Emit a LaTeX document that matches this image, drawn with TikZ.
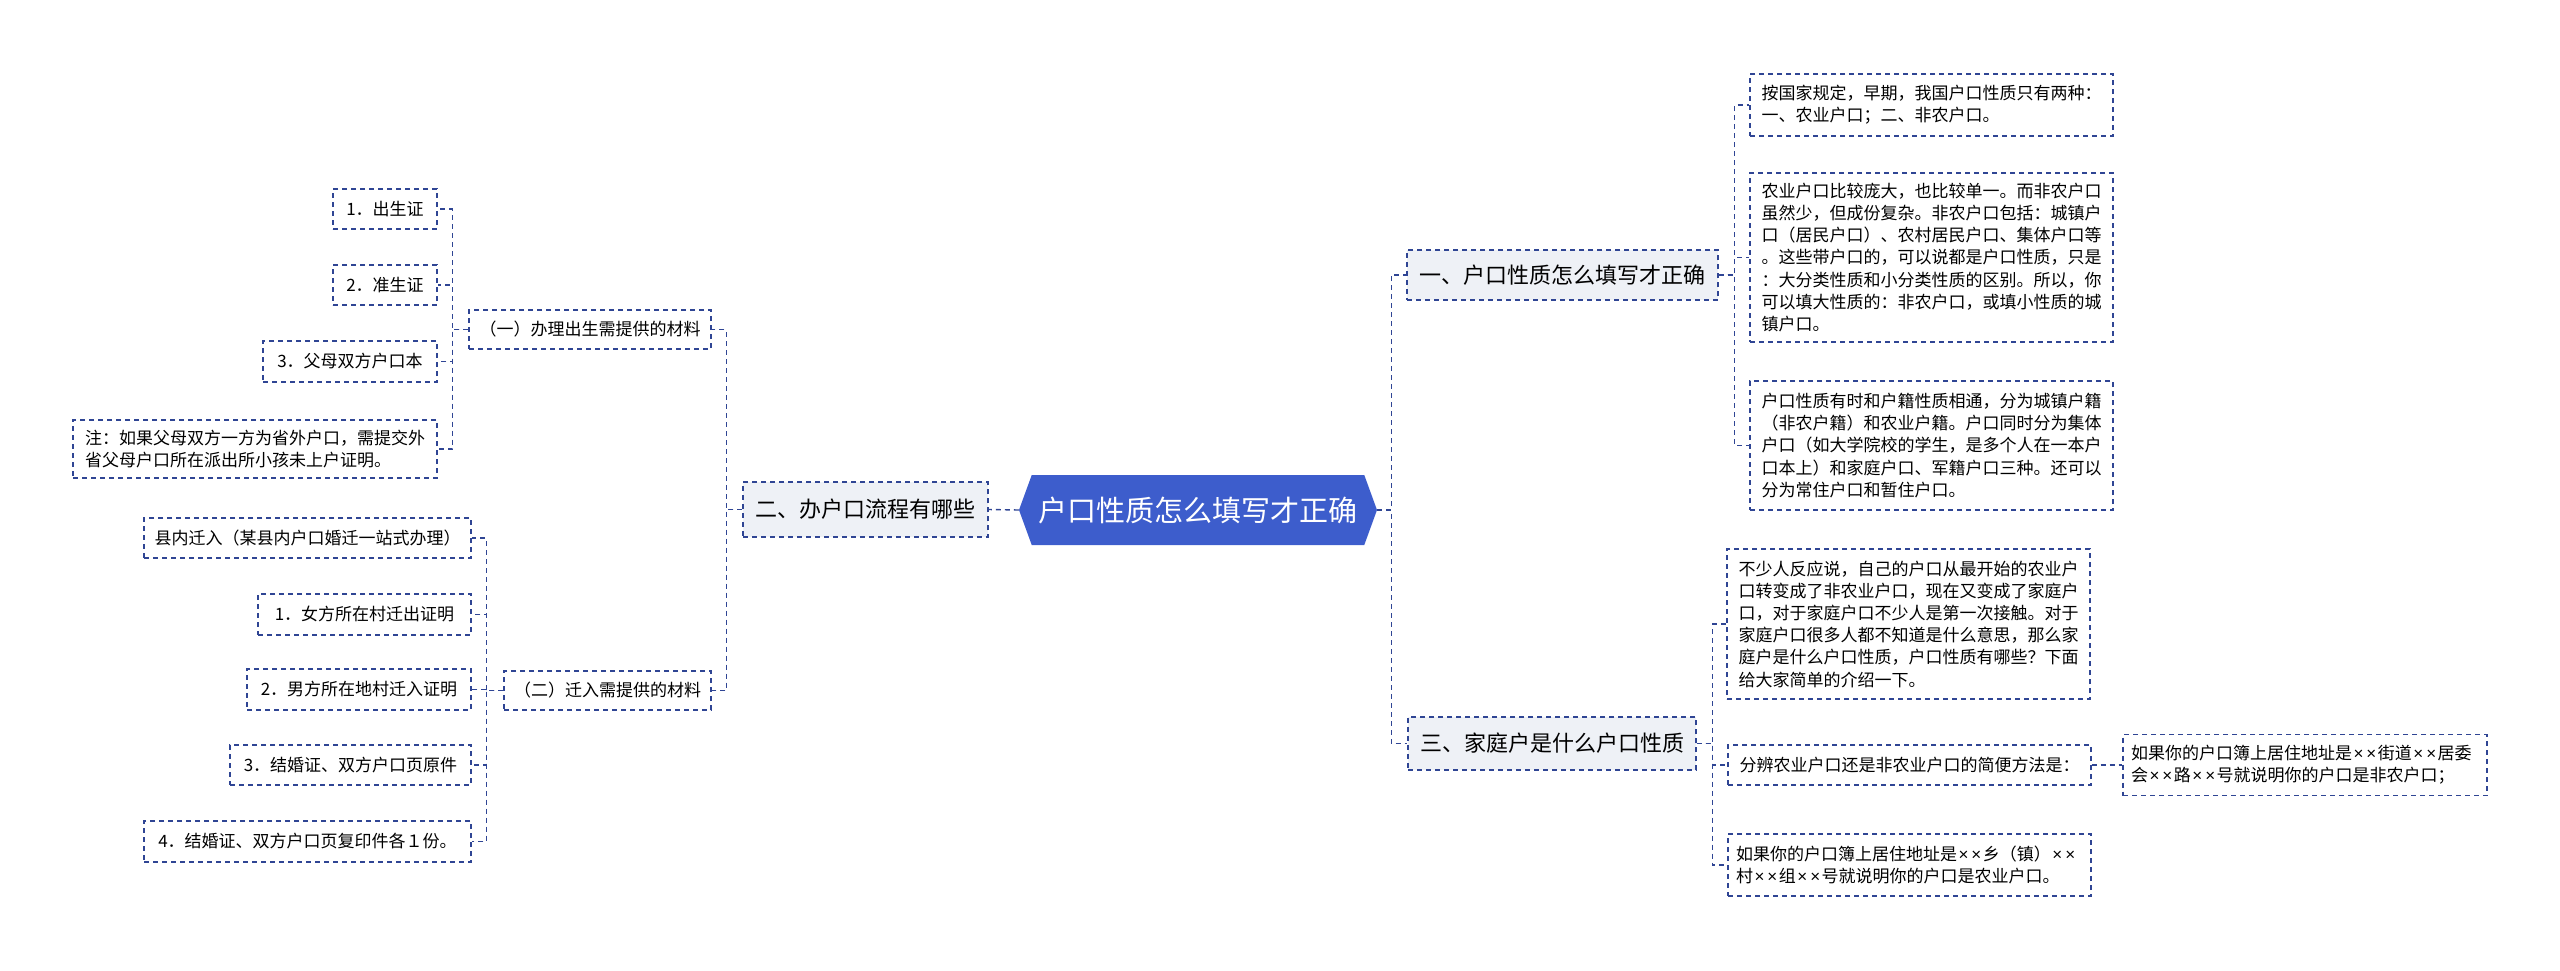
\documentclass[tikz,border=0pt]{standalone}
\usepackage{fontspec}
\setmainfont{Noto Sans CJK SC}
\newfontfamily\latinfont{Liberation Sans}
\usetikzlibrary{shapes.symbols}

\definecolor{rootblue}{RGB}{61,93,204}
\definecolor{linkblue}{RGB}{47,69,148}
\definecolor{topicgray}{RGB}{238,241,246}

% narrow times signs as in the source
\newcommand{\tm}{\hspace{1.5pt}{\latinfont ×}\hspace{1.5pt}}
\newcommand{\xx}{\tm\tm}

\tikzset{
  rootbox/.style={signal, signal to=east and west, signal pointer angle=140,
    fill=rootblue, text=white, inner sep=0pt,
    minimum width=358pt, minimum height=70pt,
    font=\fontsize{29}{34}\selectfont},
  topic/.style={draw=linkblue, line width=1.4pt, dash pattern=on 5pt off 4pt,
    fill=topicgray, font=\fontsize{22}{26}\selectfont},
  leaf/.style={draw=linkblue, line width=1.4pt, dash pattern=on 5pt off 4pt,
    fill=white, align=left, inner xsep=8pt,
    font=\fontsize{17}{22.2}\selectfont},
  link/.style={draw=linkblue, line width=1.4pt, dash pattern=on 5pt off 4pt}
}

\begin{document}
\begin{tikzpicture}[x=1pt, y=-1pt]
\useasboundingbox (0,0) rectangle (2560,970);

% draw the central topic
\node[rootbox] (root) at (1198,510) {户口性质怎么填写才正确};

% draw the main branches
\node[topic, minimum width=245pt, minimum height=55pt] (flow) at (865.5,509.5) {二、办户口流程有哪些};
\node[topic, minimum width=311pt, minimum height=50pt] (fill) at (1562.5,275) {一、户口性质怎么填写才正确};
\node[topic, minimum width=288pt, minimum height=53pt] (family) at (1552,743.5) {三、家庭户是什么户口性质};

% draw the left sub branches
\node[leaf, minimum width=242pt, minimum height=39pt] (birth) at (590,329.5) {（一）办理出生需提供的材料};
\node[leaf, minimum width=207pt, minimum height=39pt] (movein) at (607.5,690.5) {（二）迁入需提供的材料};

% draw nodes for the birth materials
\node[leaf, minimum width=104pt, minimum height=40pt] (birthA) at (385,209) {1．出生证};
\node[leaf, minimum width=104pt, minimum height=40pt] (birthB) at (385,285) {2．准生证};
\node[leaf, minimum width=174pt, minimum height=41pt] (birthC) at (350,361.5) {3．父母双方户口本};
\node[leaf, minimum width=364pt, minimum height=58pt] (birthNote) at (255,449) {注：如果父母双方一方为省外户口，需提交外\\省父母户口所在派出所小孩未上户证明。};

% draw nodes for the move-in materials
\node[leaf, minimum width=327pt, minimum height=40pt] (moveA) at (307.5,538) {县内迁入（某县内户口婚迁一站式办理）};
\node[leaf, minimum width=213pt, minimum height=41pt] (moveB) at (364.5,614.5) {1．女方所在村迁出证明};
\node[leaf, minimum width=224pt, minimum height=41pt] (moveC) at (359,689.5) {2．男方所在地村迁入证明};
\node[leaf, minimum width=241pt, minimum height=40pt] (moveD) at (350.5,765) {3．结婚证、双方户口页原件};
\node[leaf, minimum width=327pt, minimum height=41pt] (moveE) at (307.5,841.5) {4．结婚证、双方户口页复印件各１份。};

% draw nodes for the first right branch
\node[leaf, minimum width=363pt, minimum height=62pt] (fillA) at (1931.5,105) {按国家规定，早期，我国户口性质只有两种：\\一、农业户口；二、非农户口。};
\node[leaf, minimum width=363pt, minimum height=169pt] (fillB) at (1931.5,257.5) {农业户口比较庞大，也比较单一。而非农户口\\虽然少，但成份复杂。非农户口包括：城镇户\\口（居民户口）、农村居民户口、集体户口等\\。这些带户口的，可以说都是户口性质，只是\\：大分类性质和小分类性质的区别。所以，你\\可以填大性质的：非农户口，或填小性质的城\\镇户口。};
\node[leaf, minimum width=363pt, minimum height=129pt] (fillC) at (1931.5,445.5) {户口性质有时和户籍性质相通，分为城镇户籍\\（非农户籍）和农业户籍。户口同时分为集体\\户口（如大学院校的学生，是多个人在一本户\\口本上）和家庭户口、军籍户口三种。还可以\\分为常住户口和暂住户口。};

% draw nodes for the third right branch
\node[leaf, minimum width=363pt, minimum height=150pt] (familyA) at (1908.5,624) {不少人反应说，自己的户口从最开始的农业户\\口转变成了非农业户口，现在又变成了家庭户\\口，对于家庭户口不少人是第一次接触。对于\\家庭户口很多人都不知道是什么意思，那么家\\庭户是什么户口性质，户口性质有哪些？下面\\给大家简单的介绍一下。};
\node[leaf, minimum width=363pt, minimum height=40pt] (familyB) at (1909.5,765) {分辨农业户口还是非农业户口的简便方法是：};
\node[leaf, text width=347pt, minimum height=62pt] (familyC) at (1909.5,865) {如果你的户口簿上居住地址是\xx 乡（镇）\xx\\村\xx 组\xx 号就说明你的户口是农业户口。};
\node[leaf, text width=348pt, minimum height=61pt] (town) at (2305,765) {如果你的户口簿上居住地址是\xx 街道\xx 居委\\会\xx 路\xx 号就说明你的户口是非农户口；};

% draw connectors
\draw[link] (root.west) -- (flow.east);
\foreach \n in {fill,family}
  \draw[link] (root.east) -- ++(14,0) |- (\n.west);
\foreach \n in {birth,movein}
  \draw[link] (flow.west) -- ++(-16,0) |- (\n.east);
\foreach \n in {birthA,birthB,birthC,birthNote}
  \draw[link] (birth.west) -- ++(-16,0) |- (\n.east);
\foreach \n in {moveA,moveB,moveC,moveD,moveE}
  \draw[link] (movein.west) -- ++(-17,0) |- (\n.east);
\foreach \n in {fillA,fillB,fillC}
  \draw[link] (fill.east) -- ++(16,0) |- (\n.west);
\foreach \n in {familyA,familyB,familyC}
  \draw[link] (family.east) -- ++(16,0) |- (\n.west);
\draw[link] (familyB.east) -- (town.west);
\end{tikzpicture}
\end{document}
